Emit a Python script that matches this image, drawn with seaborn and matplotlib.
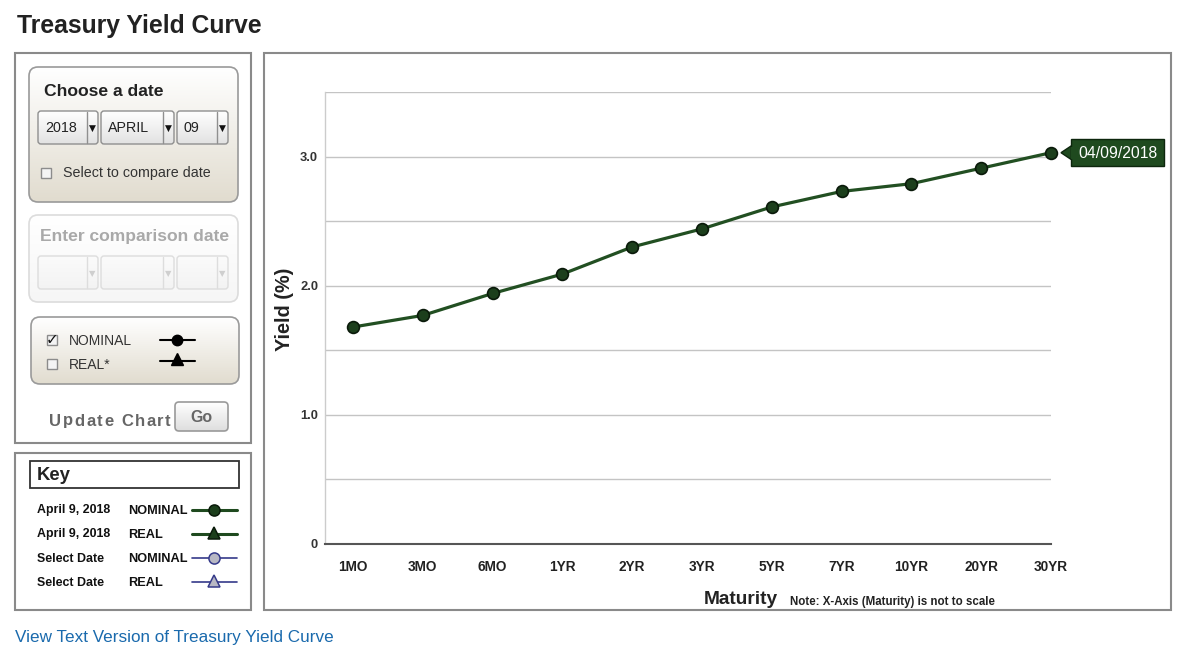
import numpy as np
import pandas as pd
import matplotlib
matplotlib.use("Agg")
import matplotlib.pyplot as plt
import seaborn as sns
from matplotlib.patches import FancyBboxPatch, Rectangle, Polygon

# ---------------- data ----------------
maturities = ["1MO", "3MO", "6MO", "1YR", "2YR", "3YR", "5YR", "7YR", "10YR", "20YR", "30YR"]
yields = [1.68, 1.77, 1.94, 2.09, 2.30, 2.44, 2.61, 2.73, 2.79, 2.91, 3.03]
ytick_values = [0, 1.0, 2.0, 3.0]
ytick_labels = ["0", "1.0", "2.0", "3.0"]
minor_grid = [0.5, 1.5, 2.5, 3.5]
curve_date = "04/09/2018"
key_dates = ["April 9, 2018", "April 9, 2018", "Select Date", "Select Date"]
key_types = ["NOMINAL", "REAL", "NOMINAL", "REAL"]

W, H = 1196, 658
GREEN = "#1f4a1f"
LINE_GREEN = "#224f22"

sns.set_style("white")
plt.rcParams["font.family"] = ["Liberation Sans", "DejaVu Sans"]

fig = plt.figure(figsize=(W / 100, H / 100), dpi=100)
fig.patch.set_facecolor("white")

# ---------------- chart ----------------
ax = fig.add_axes([325 / W, 1 - 544 / H, (1051 - 325) / W, (544 - 92) / H])
ax.set_facecolor("none")
df = pd.DataFrame({"pos": np.arange(len(maturities)), "yield": yields})
sns.lineplot(data=df, x="pos", y="yield", ax=ax, color=LINE_GREEN, linewidth=2.3,
             marker="o", markersize=8.5, markerfacecolor="#1c3f1c",
             markeredgecolor="#0a1a0a", markeredgewidth=1.2, zorder=5, clip_on=False)
ax.set_xlim(-0.4, len(maturities) - 1)
ax.set_ylim(0, 3.5)
ax.set_xticks(np.arange(len(maturities)))
ax.set_xticklabels(maturities, fontsize=9.8, fontweight="bold", color="#222")
ax.set_yticks(ytick_values)
ax.set_yticklabels(ytick_labels, fontsize=9.3, fontweight="bold", color="#333")
ax.set_yticks(minor_grid, minor=True)
ax.grid(which="both", axis="y", color="#c4c4c4", linewidth=1.0)
ax.grid(False, axis="x")
ax.tick_params(axis="x", length=4, color="#aaa", pad=7.5, width=1)
ax.tick_params(axis="y", which="both", length=0, pad=5)
for s in ["top", "right"]:
    ax.spines[s].set_visible(False)
ax.spines["left"].set_color("#cccccc")
ax.spines["left"].set_linewidth(1.0)
ax.spines["bottom"].set_color("#555555")
ax.spines["bottom"].set_linewidth(1.5)
ax.set_xlabel("")
ax.set_ylabel("")

# ---------------- overlay (pixel coords) ----------------
ov = fig.add_axes([0, 0, 1, 1])
ov.set_zorder(3)
ov.patch.set_visible(False)
ov.set_xlim(0, W)
ov.set_ylim(H, 0)
ov.axis("off")


def rect(x0, y0, x1, y1, ec="#8a8a8a", fc="none", lw=1.5, **kw):
    r = Rectangle((x0, y0), x1 - x0, y1 - y0, ec=ec, fc=fc, lw=lw, **kw)
    ov.add_patch(r)
    return r


def gbox(x0, y0, x1, y1, c_top, c_bot, ec, r=8, lw=1.2, alpha=1.0):
    p = FancyBboxPatch((x0, y0), x1 - x0, y1 - y0,
                       boxstyle=f"round,pad=0,rounding_size={r}",
                       fc="none", ec=ec, lw=lw, zorder=2)
    ov.add_patch(p)
    g = np.linspace(0, 1, 64)[:, None]
    ct = np.array(matplotlib.colors.to_rgb(c_top))
    cb = np.array(matplotlib.colors.to_rgb(c_bot))
    img = ct[None, None, :] * (1 - g[:, :, None]) + cb[None, None, :] * g[:, :, None]
    im = ov.imshow(img, extent=[x0, x1, y1, y0], aspect="auto", zorder=1,
                   alpha=alpha, interpolation="bilinear")
    im.set_clip_path(p)
    return p


def dropdown(x0, x1, y0, y1, label, faded=False):
    ec = "#dddddd" if faded else "#8f8f8f"
    gbox(x0, y0, x1, y1, "#ffffff" if not faded else "#fbfbfb",
         "#e2e2e2" if not faded else "#f3f3f3", ec, r=3, lw=1.0)
    ov.plot([x1 - 11, x1 - 11], [y0 + 1, y1 - 1], color=ec, lw=1)
    ov.text(x1 - 5.5, (y0 + y1) / 2 + 1, "▼", fontsize=6.5 if not faded else 6,
            color="#111" if not faded else "#cfcfcf", ha="center", va="center",
            family="DejaVu Sans")
    if label:
        ov.text(x0 + 7, (y0 + y1) / 2 + 0.5, label, fontsize=10.3, color="#222",
                ha="left", va="center")


def checkbox(x, y, checked=False):
    rect(x - 5, y - 5, x + 5, y + 5, ec="#8c8c8c", fc="#f4f4f4", lw=1)
    if checked:
        ov.text(x + 0.5, y - 0.5, "✓", fontsize=11, fontweight="bold", color="#111",
                ha="center", va="center", family="DejaVu Sans")


# title
ov.text(17, 25.5, "Treasury Yield Curve", fontsize=17.8, fontweight="bold",
        color="#222", ha="left", va="center")

# left panel
rect(15, 53, 251, 443)
gbox(29, 67, 238, 202, "#ffffff", "#e1dccf", "#9a9a9a", r=9)
ov.text(44, 91, "Choose a date", fontsize=12.6, fontweight="bold", color="#222",
        ha="left", va="center")
dropdown(38, 98, 111, 144, "2018")
dropdown(101, 174, 111, 144, "APRIL")
dropdown(177, 228, 111, 144, "09")
checkbox(46, 173)
clipr = Rectangle((29, 60), 181, 140, transform=ov.transData)
t = ov.text(63, 173.5, "Select to compare dates", fontsize=10.3, color="#333",
            ha="left", va="center", clip_on=True)
t.set_clip_path(clipr)
t.set_clip_on(True)

gbox(29, 215, 238, 302, "#ffffff", "#f6f6f6", "#dcdcdc", r=9)
ov.text(40, 236, "Enter comparison date", fontsize=12.6, fontweight="bold",
        color="#a9a9a9", ha="left", va="center")
dropdown(38, 98, 256, 289, "", faded=True)
dropdown(101, 174, 256, 289, "", faded=True)
dropdown(177, 228, 256, 289, "", faded=True)

gbox(31, 317, 239, 384, "#ffffff", "#e1dccf", "#9a9a9a", r=9)
checkbox(52, 340, checked=True)
checkbox(52, 364)
ov.text(69, 341, "NOMINAL", fontsize=10, color="#333", ha="left", va="center")
ov.text(69, 365, "REAL*", fontsize=10, color="#333", ha="left", va="center")
ov.plot([160, 195], [340, 340], color="black", lw=1.5)
ov.plot([177], [340], marker="o", ms=7.5, color="black")
ov.plot([160, 195], [361, 361], color="black", lw=1.5)
ov.plot([177], [359], marker="^", ms=8.5, color="black")

# letter-spaced "Update Chart"
fig.canvas.draw()
renderer = fig.canvas.get_renderer()
cx = 49
for ch in "Update Chart":
    tt = ov.text(cx, 421, ch, fontsize=12, fontweight="bold", color="#666",
                 ha="left", va="center")
    bb = tt.get_window_extent(renderer=renderer)
    cx += (bb.width if ch != " " else 4.5) + 1.6

gbox(175, 402, 228, 431, "#ffffff", "#dedede", "#9a9a9a", r=4)
ov.text(201.5, 418, "Go", fontsize=11.5, fontweight="bold", color="#666",
        ha="center", va="center")

# key panel
rect(15, 453, 251, 610)
rect(30, 461, 239, 488, ec="#333", lw=1.3)
ov.text(37, 476, "Key", fontsize=13.3, fontweight="bold", color="#222",
        ha="left", va="center")
row_y = [510, 534, 558, 582]
for i, (d, tp, yy) in enumerate(zip(key_dates, key_types, row_y)):
    ov.text(37, yy + 0.5, d, fontsize=8.9, fontweight="bold", color="#111",
            ha="left", va="center")
    ov.text(128, yy + 0.5, tp, fontsize=9.2, fontweight="bold", color="#111",
            ha="left", va="center")
    if i < 2:
        lc, fc, ec, lw = "#1f4a1f", "#1c3f1c", "#0a1a0a", 2.2
    else:
        lc, fc, ec, lw = "#353a8a", "#b8b8c4", "#353a8a", 1.2
    ov.plot([192, 237], [yy, yy], color=lc, lw=lw)
    mk = "o" if i % 2 == 0 else "^"
    ov.plot([214], [yy if mk == "o" else yy - 1.5], marker=mk, ms=8, mfc=fc, mec=ec, mew=1.1)

# chart frame
rect(264, 53, 1171, 610, ec="#8a8a8a", lw=1.5)

# axis labels
ov.text(285, 309, "Yield (%)", fontsize=14.3, fontweight="bold", color="#222",
        rotation=90, ha="center", va="center")
ov.text(740.5, 599, "Maturity", fontsize=13.8, fontweight="bold", color="#222",
        ha="center", va="center")
ov.text(790, 601.5, "Note: X-Axis (Maturity) is not to scale", fontsize=8.3,
        fontweight="bold", color="#222", ha="left", va="center")

# date flag at last point
fig.canvas.draw()
px, py = ax.transData.transform((len(maturities) - 1, yields[-1]))
py = H - py
bx0 = px + 20
ov.add_patch(Polygon([[px + 10, py], [bx0 + 0.5, py - 7], [bx0 + 0.5, py + 7]],
                     closed=True, fc=GREEN, ec="#0d260d", lw=1, zorder=4))
ov.add_patch(Rectangle((bx0, py - 13.5), 93, 27, fc=GREEN, ec="#0d260d", lw=1, zorder=4))
ov.add_patch(Rectangle((bx0 - 0.5, py - 6), 2, 12, fc=GREEN, ec="none", zorder=5))
ov.text(bx0 + 46.5, py + 0.5, curve_date, fontsize=11.3, color="white",
        ha="center", va="center", zorder=6)

# link
ov.text(15, 637.5, "View Text Version of Treasury Yield Curve", fontsize=12.3,
        color="#1a6aad", ha="left", va="center")

fig.savefig("out.png", dpi=100)
